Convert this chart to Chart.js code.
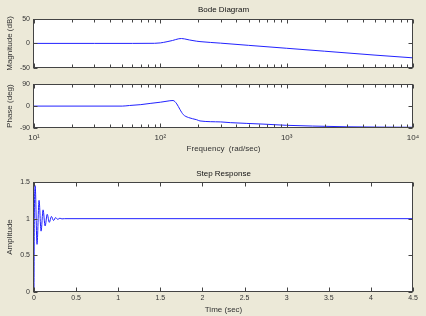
<!DOCTYPE html>
<html><head><meta charset="utf-8">
<script src="https://cdn.jsdelivr.net/npm/chart.js@4.4.0/dist/chart.umd.min.js"></script>
<style>
html,body{margin:0;padding:0;background:#ECE9D8;}
#wrap{position:relative;width:426px;height:316px;overflow:hidden;background:#ECE9D8;}
canvas{position:absolute;left:0;}
</style></head><body>
<div id="wrap">
<canvas id="mag" width="426" height="76" style="top:0"></canvas>
<canvas id="ph" width="426" height="78" style="top:76px"></canvas>
<canvas id="st" width="426" height="162" style="top:154px"></canvas>
</div>
<script>
// ---- data ----
const magFreq = [10, 30, 60, 90, 100, 113, 125, 140, 147, 155, 170, 194, 206, 300, 500, 1000, 2000, 5000, 10000];
const magDb   = [0, 0, 0, 0.2, 1, 3.5, 6, 9.5, 10, 9.3, 7, 4.5, 3.7, 0.5, -4, -10, -16, -24, -29.6];

const phFreq = [10, 50, 57, 70, 83, 100, 119, 126, 135, 143, 152, 167, 194, 206, 300, 360, 650, 1000, 1600, 3000, 10000];
const phDeg  = [0, 0, 2.5, 6, 11, 16, 22, 23, 9, -14, -35, -47, -56, -61, -65, -68, -74, -79, -82, -85, -87];

const stepT = [0, 0.004, 0.014, 0.036, 0.06, 0.084, 0.108, 0.132, 0.157, 0.182, 0.207, 0.232, 0.257, 0.282, 0.307, 0.332, 0.36, 4.5];
const stepY = [0, 1.0, 1.45, 0.65, 1.25, 0.83, 1.12, 0.9, 1.06, 0.95, 1.03, 0.975, 1.015, 0.99, 1.006, 0.997, 1.0, 1.0];

const freqMajor = [10, 100, 1000, 10000];
const freqLabels = ['10\u00B9', '10\u00B2', '10\u00B3', '10\u2074'];
const magTicks = [-50, 0, 50];
const phTicks = [-90, 0, 90];
const stepYTicks = [0, 0.5, 1, 1.5];
const stepXTicks = [0, 0.5, 1, 1.5, 2, 2.5, 3, 3.5, 4, 4.5];

const freqMinor = [];
for (let d = 10; d < 10000; d *= 10) for (let k = 2; k <= 9; k++) freqMinor.push(d * k);

// ---- style ----
const LINE = '#2222ff';
const AXIS = '#444';
const TXT = '#333';
Chart.defaults.font.family = '"Liberation Sans", Arial, sans-serif';
Chart.defaults.font.size = 7;
Chart.defaults.color = TXT;
Chart.defaults.animation = false;

const boxPlugin = {
  id: 'box',
  beforeDraw(chart) {
    const {ctx, chartArea: a} = chart;
    ctx.save(); ctx.fillStyle = '#fff';
    ctx.fillRect(a.left, a.top, a.right - a.left, a.bottom - a.top);
    ctx.restore();
  },
  afterDraw(chart, args, o) {
    const {ctx, chartArea: a, scales: {x, y}} = chart;
    ctx.save(); ctx.strokeStyle = AXIS; ctx.lineWidth = 1;
    const L = Math.round(a.left) - 0.5, R = Math.round(a.right) - 0.5,
          T = Math.round(a.top) + 0.5, B = Math.round(a.bottom) - 0.5;
    ctx.strokeRect(L, T, R - L, B - T);
    ctx.beginPath();
    const xt = (vals, len) => (vals || []).forEach(v => {
      const p = Math.round(x.getPixelForValue(v)) + 0.5;
      ctx.moveTo(p, T); ctx.lineTo(p, T + len);
      ctx.moveTo(p, B); ctx.lineTo(p, B - len);
    });
    xt(o.xMajor, 4); xt(o.xMinor, 3);
    (o.yMajor || []).forEach(v => {
      const p = Math.round(y.getPixelForValue(v)) + 0.5;
      ctx.moveTo(L, p); ctx.lineTo(L + 4, p);
      ctx.moveTo(R, p); ctx.lineTo(R - 4, p);
    });
    ctx.stroke(); ctx.restore();
  }
};

const ds = (xs, ys) => [{
  data: xs.map((v, i) => ({x: v, y: ys[i]})),
  borderColor: LINE, borderWidth: 1, pointRadius: 0,
  cubicInterpolationMode: 'monotone', fill: false
}];

const yAxis = (min, max, ticks, title) => ({
  min, max,
  afterBuildTicks: s => { s.ticks = ticks.map(v => ({value: v})); },
  afterFit: s => { s.width = 34; },
  grid: {display: false, drawTicks: false},
  border: {display: false},
  ticks: {padding: 4, callback: v => String(v)},
  title: {display: true, text: title, font: {size: 8}, padding: {top: 5, bottom: 0}}
});

// Magnitude
new Chart(document.getElementById('mag'), {
  type: 'line',
  data: {datasets: ds(magFreq, magDb)},
  plugins: [boxPlugin],
  options: {
    responsive: false,
    layout: {padding: {left: 0, right: 13, top: 0, bottom: 3}},
    plugins: {
      legend: {display: false}, tooltip: {enabled: false},
      title: {display: true, fullSize: false, text: 'Bode Diagram', color: '#111', font: {size: 8, weight: 'normal'}, padding: {top: 5, bottom: 4.4}},
      box: {xMajor: freqMajor, xMinor: freqMinor, yMajor: magTicks}
    },
    scales: {
      x: {type: 'logarithmic', min: 10, max: 10000, display: false},
      y: yAxis(-50, 50, magTicks, 'Magnitude (dB)')
    }
  }
});

// Phase
new Chart(document.getElementById('ph'), {
  type: 'line',
  data: {datasets: ds(phFreq, phDeg)},
  plugins: [boxPlugin],
  options: {
    responsive: false,
    layout: {padding: {left: 0, right: 13, top: 4, bottom: 0}},
    plugins: {
      legend: {display: false}, tooltip: {enabled: false},
      box: {xMajor: freqMajor, xMinor: freqMinor, yMajor: phTicks}
    },
    scales: {
      x: {
        type: 'logarithmic', min: 10, max: 10000,
        afterBuildTicks: s => { s.ticks = freqMajor.map(v => ({value: v})); },
        afterFit: s => { s.height = 26; },
        grid: {display: false, drawTicks: false},
        border: {display: false},
        ticks: {padding: 5, maxRotation: 0, autoSkip: false, font: {size: 8},
                callback: (v) => freqLabels[freqMajor.indexOf(v)]},
        title: {display: true, text: 'Frequency  (rad/sec)', font: {size: 8}, padding: {top: 0, bottom: 0}}
      },
      y: yAxis(-90, 90, phTicks, 'Phase (deg)')
    }
  }
});

// Step response
new Chart(document.getElementById('st'), {
  type: 'line',
  data: {datasets: ds(stepT, stepY)},
  plugins: [boxPlugin],
  options: {
    responsive: false,
    layout: {padding: {left: 0, right: 13, top: 0, bottom: 0}},
    plugins: {
      legend: {display: false}, tooltip: {enabled: false},
      title: {display: true, fullSize: false, text: 'Step Response', color: '#111', font: {size: 8, weight: 'normal'}, padding: {top: 15.2, bottom: 3.2}},
      box: {xMajor: stepXTicks, yMajor: stepYTicks}
    },
    scales: {
      x: {
        type: 'linear', min: 0, max: 4.5,
        afterBuildTicks: s => { s.ticks = stepXTicks.map(v => ({value: v})); },
        afterFit: s => { s.height = 24; },
        grid: {display: false, drawTicks: false},
        border: {display: false},
        ticks: {padding: 2, maxRotation: 0, autoSkip: false, callback: v => String(v)},
        title: {display: true, text: 'Time (sec)', font: {size: 8}, padding: {top: 0, bottom: 1.2}}
      },
      y: yAxis(0, 1.5, stepYTicks, 'Amplitude')
    }
  }
});
</script>
</body></html>
